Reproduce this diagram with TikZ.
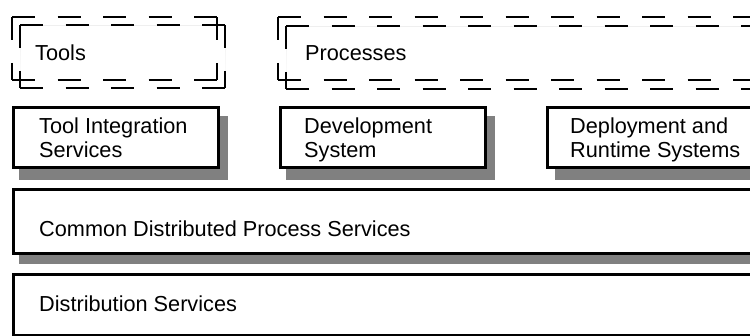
\documentclass[tikz,border=0pt]{standalone}
\usepackage{fontspec}
\setmainfont{Liberation Sans}
\definecolor{shade}{HTML}{808080}

\tikzset{
  layerbox/.style={draw=black, line width=3pt, fill=white},
  layershadow/.style={fill=shade},
  groupline/.style={line width=2pt, dash pattern=on 23pt off 22.5pt},
  layertext/.style={anchor=base west, inner sep=0pt, align=left,
    font=\fontsize{21.7}{24}\selectfont}
}

\begin{document}
\begin{tikzpicture}[x=1pt,y=-1pt]
    \useasboundingbox (0,0) rectangle (750,336);
    \clip (0,0) rectangle (750,336);
    % dashed groups, grey copy first
    \draw[groupline,shade] (20,25.5)--(225,25.5) (20,88.5)--(225,88.5)
        (20,25.5)--(20,88.5) (225,25.5)--(225,88.5);
    \draw[groupline] (12,17.5)--(217,17.5) (12,80)--(217,80)
        (12,17.5)--(12,80) (217,17.5)--(217,80);
    \draw[groupline,shade] (286,26.5)--(800,26.5) (286,89)--(800,89)
        (286,26.5)--(286,89);
    \draw[groupline] (278,17.5)--(800,17.5) (278,80)--(800,80)
        (278,17.5)--(278,80);
    \node[layertext] (tools) at (35,61) {Tools};
    \node[layertext] (processes) at (305,61) {Processes};
    % service boxes with drop shadows
    \fill[layershadow] (19,116) rectangle (228,180);
    \draw[layerbox] (13.5,107.5) rectangle (218,167.5);
    \fill[layershadow] (286,116) rectangle (495,180);
    \draw[layerbox] (280,107.5) rectangle (485,167.5);
    \fill[layershadow] (555,116) rectangle (780,180);
    \draw[layerbox] (547,107.5) rectangle (770,167.5);
    % base anchor of two-line text is the lower line
    \node[layertext] (integration) at (39,158) {Tool Integration\\Services};
    \node[layertext] (development) at (304,158) {Development\\System};
    \node[layertext] (deployment) at (570,158) {Deployment and\\Runtime Systems};
    % layers below
    \fill[layershadow] (19,198) rectangle (780,264);
    \draw[layerbox] (13.5,189.5) rectangle (770,253.5);
    \fill[layershadow] (19,283) rectangle (780,346);
    \draw[layerbox] (13.5,274.5) rectangle (770,335.5);
    \node[layertext] (common) at (39,237) {Common Distributed Process Services};
    \node[layertext] (distribution) at (39,312) {Distribution Services};
\end{tikzpicture}
\end{document}
